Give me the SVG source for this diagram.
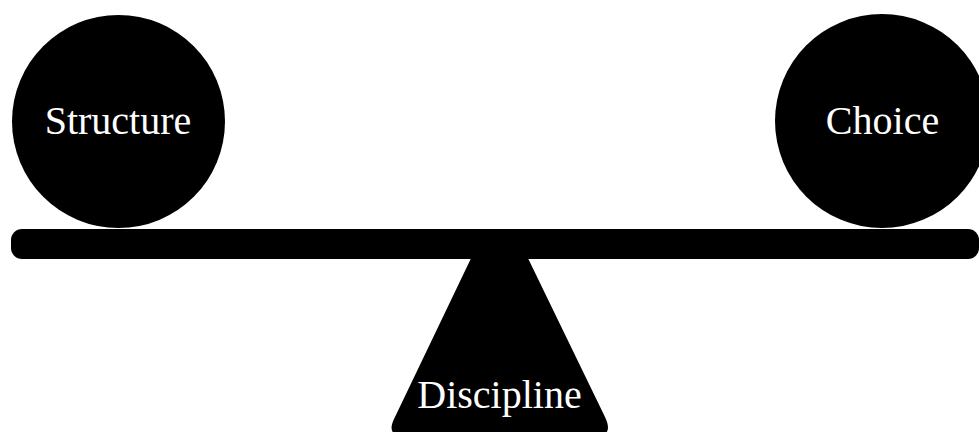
<svg xmlns="http://www.w3.org/2000/svg" width="979" height="432" viewBox="0 0 979 432">
  <style>
    .shape { fill: #000000; }
    .label { fill: #ffffff; font-family: "Liberation Serif", "Times New Roman", serif; font-size: 40px; text-anchor: middle; }
  </style>
  <rect x="0" y="0" width="979" height="432" fill="#ffffff"/>
  <g id="fulcrum">
    <path class="shape" d="M 475 250 L 524 250 L 605 417 Q 614 436 596 436 L 404 436 Q 385 436 395 417 Z"/>
    <text class="label" x="499.5" y="408">Discipline</text>
  </g>
  <g id="beam">
    <rect class="shape" x="11" y="229" width="968" height="30" rx="11" ry="11"/>
  </g>
  <g id="structure">
    <circle class="shape" cx="118.5" cy="121.5" r="106.5"/>
    <text class="label" x="118" y="134">Structure</text>
  </g>
  <g id="choice">
    <circle class="shape" cx="882" cy="121" r="107"/>
    <text class="label" x="882.5" y="134">Choice</text>
  </g>
  <g id="connectors"></g>
</svg>
